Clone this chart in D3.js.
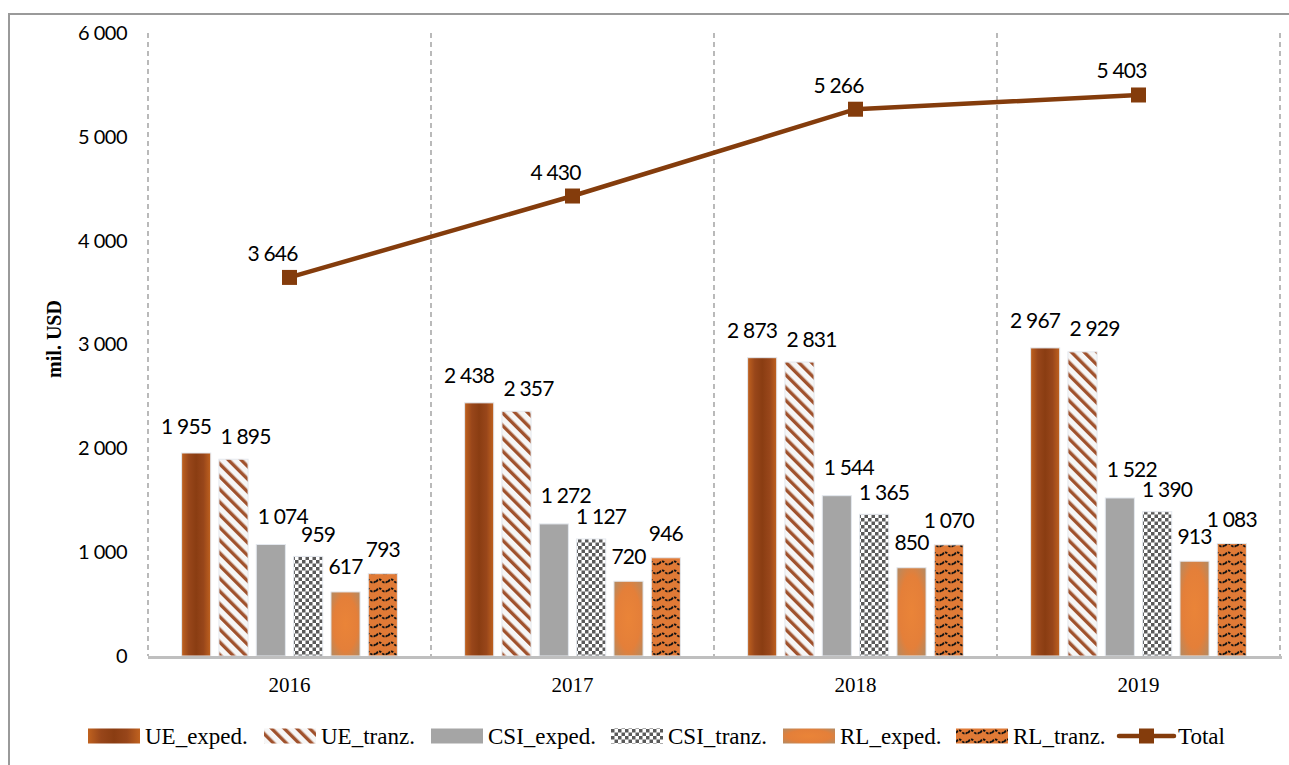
<!DOCTYPE html>
<html>
<head>
<meta charset="utf-8">
<script src="https://cdn.jsdelivr.net/npm/d3@7"></script>
<style>
  body { margin: 0; background: #fff; }
  svg { display: block; }
</style>
</head>
<body>
<svg id="chart" width="1289" height="765"></svg>
<script>
'use strict';
var years = ['2016', '2017', '2018', '2019'];
var seriesNames = ['UE_exped.', 'UE_tranz.', 'CSI_exped.', 'CSI_tranz.', 'RL_exped.', 'RL_tranz.'];
var ueExped = [1955, 2438, 2873, 2967];
var ueTranz = [1895, 2357, 2831, 2929];
var csiExped = [1074, 1272, 1544, 1522];
var csiTranz = [959, 1127, 1365, 1390];
var rlExped = [617, 720, 850, 913];
var rlTranz = [793, 946, 1070, 1083];
var total = [3646, 4430, 5266, 5403];
var yTicks = [0, 1000, 2000, 3000, 4000, 5000, 6000];

(() => {
  var svg = d3.select('#chart');
  var W = 1289, H = 765;
  var m = { left: 148, right: 1280, top: 33, bottom: 656 };
  var serif = '"Liberation Serif", "DejaVu Serif", serif';
  var sans = 'Lato, "Open Sans", sans-serif';
  var fmt = v => d3.format(',')(v).replace(/,/g, ' ');

  var values = [ueExped, ueTranz, csiExped, csiTranz, rlExped, rlTranz];
  var fills = ['url(#gUE)', 'url(#pUEt)', '#a5a5a5', 'url(#pCSIt)', 'url(#gRL)', 'url(#pRLt)'];
  // label nudges per series (center offset from bar top), as placed in the original
  var labelDx = [-10, 12, 12, 10, 0, 0];
  var labelDy = [-27, -23, -28, -22, -25, -24];

  // defs: gradients and patterns
  var defs = svg.append('defs');
  var g1 = defs.append('linearGradient').attr('id', 'gUE');
  [['0%', '#c0621f'], ['25%', '#98461a'], ['50%', '#8a3d12'], ['75%', '#98461a'], ['100%', '#c0621f']].forEach(s =>
    g1.append('stop').attr('offset', s[0]).attr('stop-color', s[1]));

  var g2 = defs.append('radialGradient').attr('id', 'gRL').attr('r', '75%');
  [['0%', '#ea8438'], ['55%', '#e47f39'], ['100%', '#a98d6c']].forEach(s =>
    g2.append('stop').attr('offset', s[0]).attr('stop-color', s[1]));

  var p1 = defs.append('pattern').attr('id', 'pUEt')
    .attr('patternUnits', 'userSpaceOnUse')
    .attr('width', 9).attr('height', 9)
    .attr('patternTransform', 'rotate(-45)');
  p1.append('rect').attr('width', 9).attr('height', 9).attr('fill', '#f6f6f6');
  p1.append('rect').attr('width', 3.4).attr('height', 9).attr('fill', '#a0522d');

  var p2 = defs.append('pattern').attr('id', 'pCSIt')
    .attr('patternUnits', 'userSpaceOnUse')
    .attr('width', 7).attr('height', 7);
  p2.append('rect').attr('width', 7).attr('height', 7).attr('fill', '#ffffff');
  p2.append('rect').attr('width', 3.5).attr('height', 3.5).attr('fill', '#5a5a5a');
  p2.append('rect').attr('x', 3.5).attr('y', 3.5).attr('width', 3.5).attr('height', 3.5).attr('fill', '#5a5a5a');

  var p3 = defs.append('pattern').attr('id', 'pRLt')
    .attr('patternUnits', 'userSpaceOnUse')
    .attr('width', 12).attr('height', 9);
  p3.append('rect').attr('width', 12).attr('height', 9).attr('fill', '#e07a36');
  p3.append('path').attr('d', 'M0,6 Q3,1.5 6,5 T12,5')
    .attr('fill', 'none').attr('stroke', '#111').attr('stroke-width', 1.8)
    .attr('stroke-dasharray', '2.6,1.2');

  // outer frame
  svg.append('path').attr('d', `M9,${H} V14 H${W}`)
    .attr('fill', 'none').attr('stroke', '#9a9a9a').attr('stroke-width', 2);

  // scales
  var x0 = d3.scaleBand().domain(years).range([m.left, m.right]);
  var x1 = d3.scaleBand().domain(d3.range(6)).range([0, x0.bandwidth()])
    .paddingInner(0.22).paddingOuter(0.9);
  var y = d3.scaleLinear().domain([0, 6000]).range([m.bottom, m.top]);

  // vertical dashed separators
  var seps = years.map(d => x0(d)).concat([m.right]);
  svg.append('g').selectAll('line').data(seps).join('line')
    .attr('x1', d => d).attr('x2', d => d)
    .attr('y1', m.top).attr('y2', m.bottom)
    .attr('stroke', '#8c8c8c').attr('stroke-width', 1.2)
    .attr('stroke-dasharray', '5,4');

  // y axis labels
  var yAxis = d3.axisLeft(y).tickValues(yTicks).tickFormat(fmt).tickSize(0).tickPadding(21);
  var ya = svg.append('g').attr('transform', `translate(${m.left},0)`).call(yAxis);
  ya.select('.domain').remove();
  ya.selectAll('text').attr('font-family', sans).attr('font-size', 20)
    .attr('letter-spacing', -0.5).attr('fill', '#000');

  svg.append('text')
    .attr('transform', 'translate(61,339) rotate(-90)')
    .attr('text-anchor', 'middle')
    .attr('font-family', serif).attr('font-weight', 'bold').attr('font-size', 20)
    .text('mil. USD');

  // bars
  var rows = (d, i) => values.map((s, k) => ({ k: k, v: s[i] }));
  var groups = svg.append('g').selectAll('g').data(years).join('g')
    .attr('transform', d => `translate(${x0(d)},0)`);
  groups.selectAll('rect').data(rows).join('rect')
    .attr('x', d => x1(d.k))
    .attr('y', d => y(d.v))
    .attr('width', x1.bandwidth())
    .attr('height', d => y(0) - y(d.v))
    .attr('fill', d => fills[d.k])
    .attr('stroke', '#e4e8ee').attr('stroke-width', 1);

  groups.selectAll('text').data(rows).join('text')
    .attr('x', d => x1(d.k) + x1.bandwidth() / 2 + labelDx[d.k])
    .attr('y', d => y(d.v) + labelDy[d.k] + 7.5)
    .attr('text-anchor', 'middle')
    .attr('font-family', sans).attr('font-size', 21).attr('letter-spacing', -0.8).attr('fill', '#000')
    .text(d => fmt(d.v));

  // x axis
  svg.append('line')
    .attr('x1', m.left).attr('x2', m.right + 2)
    .attr('y1', m.bottom + 1.5).attr('y2', m.bottom + 1.5)
    .attr('stroke', '#bfbfbf').attr('stroke-width', 3);
  var xAxis = d3.axisBottom(x0).tickSize(0).tickPadding(21);
  var xa = svg.append('g').attr('transform', `translate(0,${m.bottom})`).call(xAxis);
  xa.select('.domain').remove();
  xa.selectAll('text').attr('font-family', serif).attr('font-size', 21).attr('fill', '#000');

  // total line
  var cx = d => x0(d) + x0.bandwidth() / 2;
  var line = d3.line().x((d, i) => cx(years[i])).y(d => y(d));
  var lineColor = '#843c0c';
  svg.append('path').datum(total).attr('d', line)
    .attr('fill', 'none').attr('stroke', lineColor).attr('stroke-width', 4.5);
  svg.append('g').selectAll('rect').data(total).join('rect')
    .attr('x', (d, i) => cx(years[i]) - 7.5).attr('y', d => y(d) - 7.5)
    .attr('width', 15).attr('height', 15).attr('fill', lineColor);
  svg.append('g').selectAll('text').data(total).join('text')
    .attr('x', (d, i) => cx(years[i]) - 17).attr('y', d => y(d) - 24 + 7.5)
    .attr('text-anchor', 'middle')
    .attr('font-family', sans).attr('font-size', 21).attr('letter-spacing', -0.8).attr('fill', '#000')
    .text(d => fmt(d));

  // legend
  var legX = [88, 264, 431, 611, 783, 956];
  var leg = svg.append('g').attr('transform', 'translate(0,736)');
  var items = leg.selectAll('g').data(seriesNames).join('g')
    .attr('transform', (d, i) => `translate(${legX[i]},0)`);
  items.append('rect').attr('x', 0).attr('y', -7.5).attr('width', 52).attr('height', 15)
    .attr('fill', (d, i) => fills[i]);
  items.append('text').attr('x', 57).attr('y', 7.5)
    .attr('font-family', serif).attr('font-size', 23).attr('fill', '#000')
    .text(d => d);
  var tl = leg.append('g').attr('transform', 'translate(1119,0)');
  tl.append('line').attr('x1', 0).attr('x2', 55).attr('y1', 0).attr('y2', 0)
    .attr('stroke', lineColor).attr('stroke-width', 4.5).attr('stroke-linecap', 'round');
  tl.append('rect').attr('x', 20).attr('y', -7.5).attr('width', 15).attr('height', 15).attr('fill', lineColor);
  tl.append('text').attr('x', 59).attr('y', 7.5)
    .attr('font-family', serif).attr('font-size', 23).attr('fill', '#000')
    .text('Total');
})();
</script>
</body>
</html>
